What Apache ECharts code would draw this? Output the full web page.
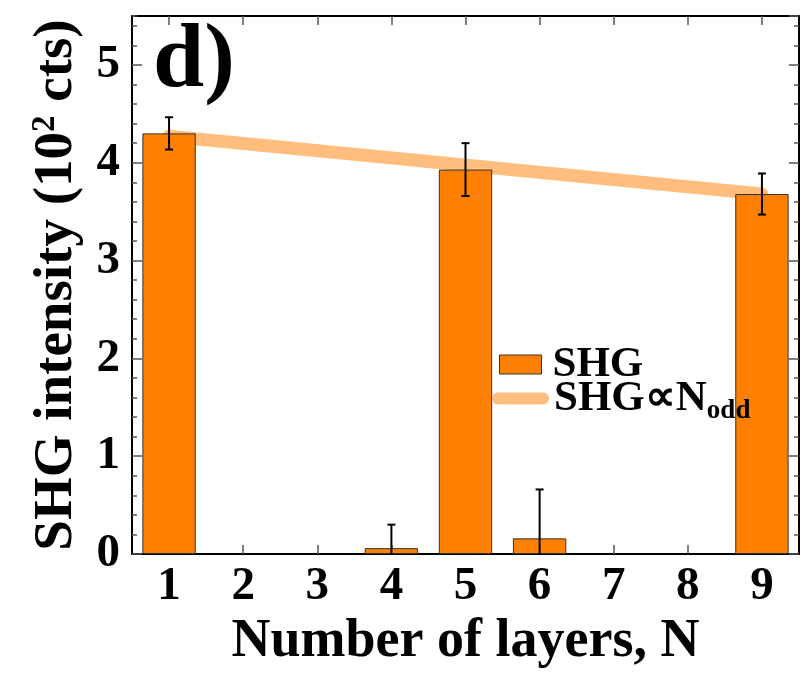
<!DOCTYPE html>
<html>
<head>
<meta charset="utf-8">
<script src="https://cdn.jsdelivr.net/npm/echarts@6/dist/echarts.min.js"></script>
<style>html,body{margin:0;padding:0;background:#fff;}#c{width:803px;height:678px;}</style>
</head>
<body>
<div id="c"></div>
<script>
// ---- data ----
const layers = ['1','2','3','4','5','6','7','8','9'];
const shg = [4.30, 0, 0, 0.06, 3.93, 0.16, 0, 0, 3.68];
const shgErr = [0.165, 0, 0, 0.24, 0.27, 0.50, 0, 0, 0.21];
const fitLayers = ['1','9'];
const fitValues = [4.27, 3.68];

const FONT = 'Liberation Serif';
const chart = echarts.init(document.getElementById('c'), null, {renderer:'canvas'});

const fitData = fitLayers.map((l,i)=>[layers.indexOf(l), fitValues[i]]);
const barData = shg.map(v => v === 0 ? null : v);
const errData = layers.map((l,i)=>[i, shg[i]-shgErr[i], shg[i]+shgErr[i], shgErr[i]]).filter(d=>d[3]>0);

const yMajor = (pos, showLabel) => ({
  type:'value', min:0, max:5.5, interval:1, position:pos,
  axisLine:{show:true, onZero:false, lineStyle:{color:'#000', width:2}},
  axisTick:{show:true, inside:true, length:10, lineStyle:{color:'#555', width:1.5}},
  axisLabel:{show:showLabel, showMaxLabel:false, margin:12, fontFamily:FONT, fontWeight:'bold', fontSize:47, color:'#000'},
  splitLine:{show:false}
});
const yMinor = (pos) => ({
  type:'value', min:0, max:5.5, interval:0.2, position:pos,
  axisLine:{show:false},
  axisTick:{show:true, inside:true, length:5, lineStyle:{color:'#555', width:1.5}},
  axisLabel:{show:false}, splitLine:{show:false}
});

const option = {
  backgroundColor:'#fff',
  animation:false,
  grid:{left:132, right:4, top:16, bottom:124},
  xAxis:[
    {type:'category', data:layers, position:'bottom', boundaryGap:true,
     name:'Number of layers, N', nameLocation:'middle', nameGap:59,
     nameTextStyle:{fontFamily:FONT, fontWeight:'bold', fontSize:54, color:'#000'},
     axisLine:{show:true, onZero:false, lineStyle:{color:'#000', width:2}},
     axisTick:{show:true, inside:true, alignWithLabel:true, length:9, lineStyle:{color:'#555', width:1.5}},
     axisLabel:{margin:9, fontFamily:FONT, fontWeight:'bold', fontSize:47, color:'#000'},
     splitLine:{show:false}},
    {type:'category', data:layers, position:'top', boundaryGap:true,
     axisLine:{show:true, onZero:false, lineStyle:{color:'#000', width:2}},
     axisTick:{show:true, inside:true, alignWithLabel:true, length:9, lineStyle:{color:'#555', width:1.5}},
     axisLabel:{show:false}, splitLine:{show:false}}
  ],
  yAxis:[
    Object.assign(yMajor('left', true), {
      name:'SHG intensity (10{sup|2} cts)', nameLocation:'middle', nameGap:48, nameRotate:90,
      nameTextStyle:{fontFamily:FONT, fontWeight:'bold', fontSize:55, color:'#000',
        rich:{sup:{fontFamily:FONT, fontWeight:'bold', fontSize:33, color:'#000', verticalAlign:'top', padding:[0,0,22,0]}}}
    }),
    yMinor('left'),
    yMajor('right', false),
    yMinor('right')
  ],
  legend:[
    {data:['SHG'], left:499, top:343, orient:'vertical', icon:'rect',
     itemWidth:42, itemHeight:19, itemGap:0, padding:0,
     itemStyle:{borderColor:'#333', borderWidth:1},
     textStyle:{fontFamily:FONT, fontWeight:'bold', fontSize:43, color:'#000', padding:[0,0,0,6]}},
    {data:['SHG∝N_odd'], left:492, top:377, orient:'vertical',
     icon:'path://M6,0 L51,0 A6,6 0 0 1 51,12 L6,12 A6,6 0 0 1 6,0 Z',
     itemWidth:57, itemHeight:12, itemGap:0, padding:0,
     formatter:()=>'{a|SHG∝N}{b|odd}',
     textStyle:{fontFamily:FONT, fontWeight:'bold', fontSize:43, color:'#000', padding:[0,0,0,0],
       rich:{a:{fontFamily:FONT, fontWeight:'bold', fontSize:43, color:'#000'},
             b:{fontFamily:FONT, fontWeight:'bold', fontSize:27, color:'#000', padding:[26,0,0,0]}}}}
  ],
  graphic:[
    {type:'text', left:153, top:16, style:{text:'d)', fontFamily:FONT, fontWeight:'bold', fontSize:92, fill:'#000'}}
  ],
  series:[
    {name:'SHG∝N_odd', type:'line', xAxisIndex:0, yAxisIndex:0, data:fitData,
     symbol:'none', z:1, color:'#FFBE7D',
     lineStyle:{color:'#FFBE7D', width:13, cap:'round'}},
    {name:'SHG', type:'bar', xAxisIndex:0, yAxisIndex:0, data:barData, barWidth:'72%', z:2,
     itemStyle:{color:'#FF8000', borderColor:'#333', borderWidth:1}},
    {name:'err', type:'custom', xAxisIndex:0, yAxisIndex:0, data:errData, z:3, clip:true,
     renderItem:(params, api)=>{
       const x = api.value(0);
       const lo = api.coord([x, api.value(1)]);
       const hi = api.coord([x, api.value(2)]);
       const w = 4;
       const st = {stroke:'#000', lineWidth:2};
       return {type:'group', children:[
         {type:'line', shape:{x1:lo[0], y1:lo[1], x2:hi[0], y2:hi[1]}, style:st},
         {type:'line', shape:{x1:hi[0]-w, y1:hi[1], x2:hi[0]+w, y2:hi[1]}, style:st},
         {type:'line', shape:{x1:lo[0]-w, y1:lo[1], x2:lo[0]+w, y2:lo[1]}, style:st}
       ]};
     }}
  ]
};
chart.setOption(option);
</script>
</body>
</html>
